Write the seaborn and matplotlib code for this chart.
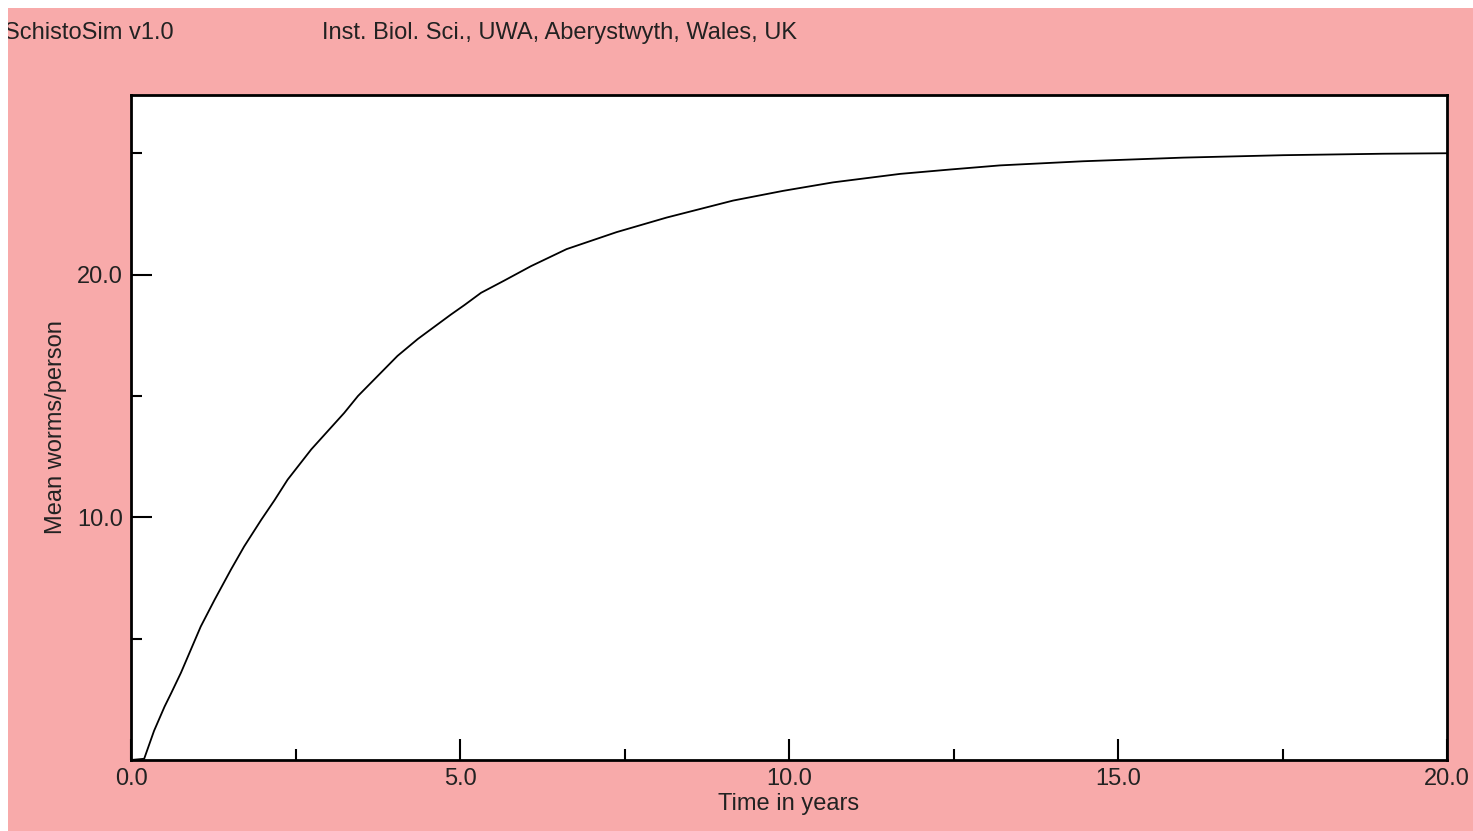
import matplotlib
matplotlib.use("Agg")
import matplotlib.pyplot as plt
import seaborn as sns
from matplotlib.patches import Rectangle

# Mean worm burden
years = [0.0, 0.2, 0.35, 0.51, 0.61, 0.76, 0.91, 1.06, 1.27, 1.52, 1.72, 1.98,
         2.18, 2.38, 2.74, 2.99, 3.24, 3.45, 3.65, 4.05, 4.36, 4.56, 4.86,
         5.07, 5.32, 5.67, 6.08, 6.62, 7.38, 8.14, 9.15, 9.91, 10.67, 11.69,
         12.45, 13.21, 14.47, 15.99, 17.51, 19.03, 20.0]
mean_worms = [0.0, 0.05, 1.2, 2.2, 2.75, 3.6, 4.55, 5.5, 6.6, 7.85, 8.8, 9.9,
              10.7, 11.55, 12.8, 13.55, 14.3, 15.0, 15.55, 16.65, 17.35, 17.75,
              18.35, 18.75, 19.25, 19.75, 20.35, 21.05, 21.75, 22.35, 23.05,
              23.45, 23.8, 24.15, 24.33, 24.5, 24.67, 24.82, 24.92, 24.98, 25.0]

x_major = [0.0, 5.0, 10.0, 15.0, 20.0]
x_minor = [2.5, 7.5, 12.5, 17.5]
y_major = [10.0, 20.0]
y_minor = [5.0, 15.0, 25.0]

pink = "#f8aaaa"
sns.set_style("white")
plt.rcParams["font.family"] = ["Liberation Sans", "DejaVu Sans"]

fig = plt.figure(figsize=(14.73, 8.31), dpi=100, facecolor="white")
W, H = 1473, 831
# pink window background, leaving thin white strips at top and left
fig.patches.append(Rectangle((8 / W, 0), 1 - 8 / W, 1 - 8 / H, transform=fig.transFigure,
                             facecolor=pink, edgecolor="none", zorder=-5))

ax = fig.add_axes([131 / W, (831 - 760) / H, (1447 - 131) / W, (760 - 95) / H])
ax.set_facecolor("white")

sns.lineplot(x=years, y=mean_worms, color="black", linewidth=1.3, ax=ax)

ax.set_xlim(0, 20)
ax.set_ylim(0, 27.4)
ax.set_xticks(x_major)
ax.set_xticks(x_minor, minor=True)
ax.set_yticks(y_major)
ax.set_yticks(y_minor, minor=True)
ax.set_xticklabels([f"{v:.1f}" for v in x_major])
ax.set_yticklabels([f"{v:.1f}" for v in y_major])
ax.tick_params(which="both", bottom=True, left=True, top=False, right=False)
ax.tick_params(which="major", direction="in", length=15, width=1.5, color="black",
               labelsize=17, pad=6, labelcolor="#222222")
ax.tick_params(which="minor", direction="in", length=8, width=1.5, color="black")

for side in ["left", "bottom", "right", "top"]:
    ax.spines[side].set_visible(True)
    ax.spines[side].set_color("black")
    ax.spines[side].set_linewidth(2)

ax.set_xlabel("Time in years", fontsize=17, color="#222222")
ax.set_ylabel("Mean worms/person", fontsize=17, color="#222222")
ax.xaxis.set_label_coords(0.5, -0.066)
ax.xaxis.label.set_va("center")
ax.yaxis.set_label_coords(-0.057, 0.5)
ax.yaxis.label.set_va("center")
ax.yaxis.label.set_ha("center")

fig.text(4 / W, 1 - 33 / H, "SchistoSim v1.0", fontsize=17, color="#222222",
         ha="left", va="center")
fig.text(322 / W, 1 - 33 / H, "Inst. Biol. Sci., UWA, Aberystwyth, Wales, UK",
         fontsize=17, color="#222222", ha="left", va="center")
# white strips drawn over the text edge as in the original window capture
fig.patches.append(Rectangle((0, 0), 8 / W, 1, transform=fig.transFigure,
                             facecolor="white", edgecolor="none", zorder=10))
fig.patches.append(Rectangle((0, 1 - 8 / H), 1, 8 / H, transform=fig.transFigure,
                             facecolor="white", edgecolor="none", zorder=10))

fig.savefig("out.png", dpi=100, facecolor="white")
